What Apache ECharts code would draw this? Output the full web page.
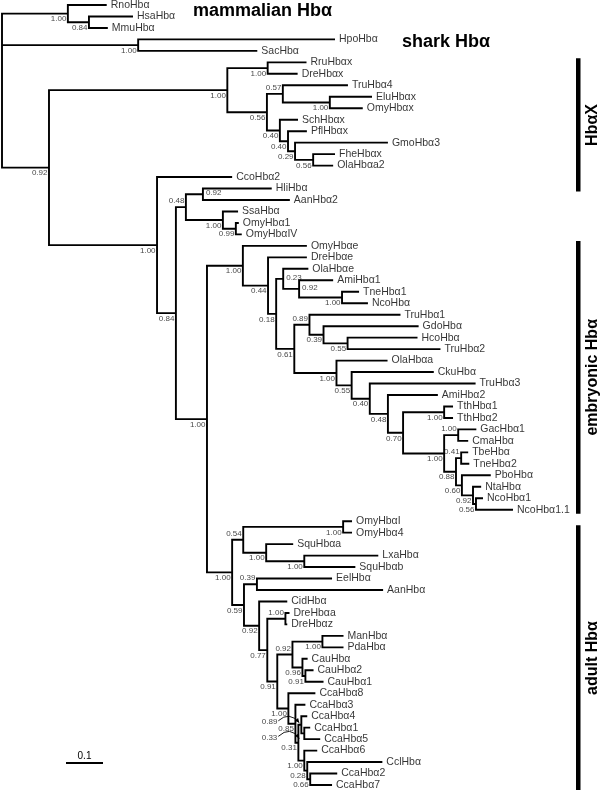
<!DOCTYPE html>
<html><head><meta charset="utf-8">
<script src="https://cdn.jsdelivr.net/npm/echarts@6/dist/echarts.min.js"></script>
<style>html,body{margin:0;padding:0;background:#fff}#c{width:605px;height:790px}</style>
</head><body><div id="c"></div>
<script>
// ---- DATA ----
// Tree topology, branch lengths (substitutions/site) and support values (Newick)
const treeNewick =
"((RnoHbα:0.105,(HsaHbα:0.119,MmuHbα:0.051)0.84:0.057)1.00:0.178," +
"(HpoHbα:0.532,SacHbα:0.322)1.00:0.368," +
"(((RruHbαx:0.105,DreHbαx:0.081)1.00:0.109,((TruHbα4:0.176,(EluHbαx:0.114,OmyHbαx:0.089)1.00:0.127)0.57:0.043,(SchHbαx:0.049,(PflHbαx:0.051,(GmoHbα3:0.251,(FheHbαx:0.059,OlaHbαa2:0.054)0.56:0.049)0.29:0.019)0.40:0.022)0.40:0.035)0.56:0.107)1.00:0.482," +
"(CcoHbα2:0.203,(((HliHbα:0.186,AanHbα2:0.235)0.92:0.046,(SsaHbα:0.041,(OmyHbα1:0.008,OmyHbαIV:0.016)0.99:0.035)1.00:0.100)0.48:0.027," +
"((OmyHbαe:0.173,(DreHbαe:0.105,((OlaHbαe:0.068,(AmiHbα1:0.092,(TneHbα1:0.046,NcoHbα:0.070)1.00:0.116)0.92:0.043)0.23:0.019,((TruHbα1:0.246,(GdoHbα:0.257,(HcoHbα:0.189,TruHbα2:0.251)0.55:0.065)0.39:0.038)0.89:0.041,(OlaHbαa:0.138,(CkuHbα:0.222,(TruHbα3:0.286,(AmiHbα2:0.135,((TthHbα1:0.024,TthHbα2:0.024)1.00:0.111,((GacHbα1:0.049,CmaHbα:0.027)1.00:0.038,((TbeHbα:0.019,TneHbα2:0.022)0.41:0.014,(PboHbα:0.078,(NtaHbα:0.022,(NcoHbα1:0.019,NcoHbα1.1:0.100)0.56:0.008)0.92:0.030)0.60:0.016)0.88:0.032)1.00:0.111)0.70:0.041)0.48:0.049)0.40:0.049)0.55:0.041)1.00:0.114)0.61:0.049)0.18:0.022)0.44:0.068)1.00:0.097," +
"(((OmyHbαI:0.024,OmyHbα4:0.024)1.00:0.270,(SquHbαa:0.073,(LxaHbα:0.200,SquHbαb:0.138)1.00:0.103)1.00:0.062)0.54:0.030,((EelHbα:0.203,AanHbα:0.341)0.39:0.035,(CidHbα:0.076,((DreHbαa:0.011,DreHbαz:0.005)1.00:0.049,(((ManHbα:0.057,PdaHbα:0.057)1.00:0.081,(CauHbα:0.014,(CauHbα2:0.022,CauHbα1:0.049)0.91:0.008)0.96:0.027)0.92:0.041,(CcaHbα8:0.073,(CcaHbα3:0.027,((CcaHbα4:0.016,(CcaHbα1:0.016,CcaHbα5:0.043)0.33:0.008)0.89:0.008,(CcaHbα6:0.035,(CclHbα:0.203,(CcaHbα2:0.073,CcaHbα7:0.059)0.66:0.008)0.28:0.008)1.00:0.016)0.31:0.008)0.85:0.019)1.00:0.030)0.91:0.027)0.77:0.022)0.92:0.041)0.59:0.032)1.00:0.068)1.00:0.084)0.84:0.051)1.00:0.292)0.92:0.127);";

// Clade groups marked with bars on the right
const cladeNames     = ['HbαX', 'embryonic Hbα', 'adult Hbα'];
const cladeFirstLeaf = ['RruHbαx', 'OmyHbαe', 'OmyHbαI'];
const cladeLastLeaf  = ['OlaHbαa2', 'NcoHbα1.1', 'CcaHbα7'];

// Group annotations written next to clades
const annotationTexts = ['mammalian Hbα', 'shark Hbα'];

// Scale bar length (substitutions/site)
const scaleBarLength = 0.1;
const scaleBarText = '0.1';

// ---- STYLE ----
const supportAbove = ['TruHbα4|OmyHbαx','HliHbα|OmyHbαIV','TruHbα1|TruHbα2','GacHbα1|CmaHbα',
  'TbeHbα|TneHbα2','OmyHbαI|SquHbαb','EelHbα|AanHbα','DreHbαa|DreHbαz','ManHbα|CauHbα1'];
const supportRight = ['HliHbα|AanHbα2','OlaHbαe|NcoHbα','AmiHbα1|NcoHbα'];
const supportArrow = {'CcaHbα4|CcaHbα5':{lab:[-24,-3], s:[-23,-4], c:[-12,-14], e:[-2,-2]},
                      'CcaHbα1|CcaHbα5':{lab:[-27,4], s:[-26,3], c:[-14,-8], e:[-5,5]}};
const cladeBarPadTop = [4, 5, -4];
const cladeBarPadBottom = [26, 4, 6];
const LW = 1.9;
const FONT = '"Liberation Sans", Arial, sans-serif';

// ---- PARSE ----
function parseNewick(s){
  let i = 0;
  function node(){
    const n = {children:[], name:'', len:0};
    if (s[i] === '('){
      i++;
      n.children.push(node());
      while (s[i] === ','){ i++; n.children.push(node()); }
      i++;
    }
    let name = '';
    while (i < s.length && '(),:;'.indexOf(s[i]) < 0){ name += s[i]; i++; }
    n.name = name;
    if (s[i] === ':'){
      i++; let num = '';
      while (i < s.length && '(),;'.indexOf(s[i]) < 0){ num += s[i]; i++; }
      n.len = parseFloat(num);
    }
    return n;
  }
  return node();
}
const tree = parseNewick(treeNewick.replace(/\s+/g,''));
const leaves = [], internals = [];
(function walk(n, px){
  n.x = px + (n.len || 0);
  if (!n.children.length){ n.y = leaves.length; leaves.push(n); n.first = n.last = n.name; }
  else {
    n.children.forEach(c => walk(c, n.x));
    const a = n.children[0], b = n.children[n.children.length-1];
    n.y = (a.y + b.y)/2; n.first = a.first; n.last = b.last;
    internals.push(n);
  }
})(tree, 0);
const leafIndex = {}; leaves.forEach(l => leafIndex[l.name] = l.y);

// ---- RENDER ----
function treeRender(params, api){
  const n = internals[params.dataIndex];
  const k = n.children, a = k[0], b = k[k.length-1];
  const pts = [api.coord([a.x,a.y]), api.coord([n.x,a.y]), api.coord([n.x,b.y]), api.coord([b.x,b.y])];
  const st = {stroke:'#000', lineWidth:LW, fill:null, lineJoin:'miter', lineCap:'butt'};
  const ch = [{type:'polyline', shape:{points:pts}, style:st}];
  for (let j=1;j<k.length-1;j++){
    const p0 = api.coord([n.x,k[j].y]), p1 = api.coord([k[j].x,k[j].y]);
    ch.push({type:'line', shape:{x1:p0[0],y1:p0[1],x2:p1[0],y2:p1[1]}, style:st});
  }
  return {type:'group', children:ch};
}

const supportNodes = internals.filter(n => n.name);
const supportData = supportNodes.map(n => {
  const key = n.first + '|' + n.last;
  let label = {align:'right', offset:[-1.5, 5.5]};
  if (supportAbove.includes(key)) label = {align:'right', offset:[-1.5,-6]};
  if (supportRight.includes(key)) label = {align:'left', offset:[3,-1]};
  if (supportArrow[key]) label = {align:'right', offset:supportArrow[key].lab};
  return {name:n.name, value:[n.x, n.y], label:label};
});

const arrowNodes = internals.filter(n => supportArrow[n.first + '|' + n.last]);
function arrowRender(params, api){
  const n = arrowNodes[params.dataIndex];
  const a = supportArrow[n.first + '|' + n.last];
  const p = api.coord([n.x, n.y]);
  const s = [p[0]+a.s[0], p[1]+a.s[1]], c = [p[0]+a.c[0], p[1]+a.c[1]], e = [p[0]+a.e[0], p[1]+a.e[1]];
  const dx = e[0]-c[0], dy = e[1]-c[1], L = Math.hypot(dx,dy), ux = dx/L, uy = dy/L;
  const h = 4.5, w = 2.2;
  const head = [[e[0],e[1]],[e[0]-ux*h-uy*w, e[1]-uy*h+ux*w],[e[0]-ux*h+uy*w, e[1]-uy*h-ux*w]];
  return {type:'group', children:[
    {type:'bezierCurve', shape:{x1:s[0],y1:s[1],x2:e[0],y2:e[1],cpx1:c[0],cpy1:c[1]}, style:{stroke:'#000', lineWidth:0.9, fill:null}},
    {type:'polygon', shape:{points:head}, style:{fill:'#000'}}
  ]};
}

function cladeRender(params, api){
  const i = params.dataIndex;
  const y0 = api.coord([0, leafIndex[cladeFirstLeaf[i]]])[1] - cladeBarPadTop[i];
  const y1 = api.coord([0, leafIndex[cladeLastLeaf[i]]])[1] + cladeBarPadBottom[i];
  return {type:'group', children:[
    {type:'rect', shape:{x:576, y:y0, width:4.5, height:y1-y0}, style:{fill:'#000'}},
    {type:'text', x:593, y:(y0+y1)/2, rotation:Math.PI/2,
     style:{text:cladeNames[i], font:'bold 16px ' + FONT, fill:'#000', align:'center', verticalAlign:'middle'}}
  ]};
}

function scaleRender(params, api){
  const len = api.coord([scaleBarLength,0])[0] - api.coord([0,0])[0];
  const x0 = 66, y0 = 763;
  return {type:'group', children:[
    {type:'line', shape:{x1:x0,y1:y0,x2:x0+len,y2:y0}, style:{stroke:'#000', lineWidth:LW}},
    {type:'text', x:x0+len/2, y:y0-7, style:{text:scaleBarText, font:'10px ' + FONT, fill:'#000', align:'center', verticalAlign:'middle'}}
  ]};
}

const chart = echarts.init(document.getElementById('c'), null, {renderer:'canvas'});
chart.setOption({
  animation:false,
  backgroundColor:'#fff',
  grid:{left:2, top:5, width:592, height:780},
  xAxis:{type:'value', min:0, max:1.6, show:false},
  yAxis:{type:'value', min:0, max:68, inverse:true, show:false},
  series:[
    {type:'custom', renderItem:treeRender, data:internals.map(n=>[n.x,n.y]), silent:true, clip:false, z:2},
    {type:'scatter', symbolSize:0, silent:true, z:3,
     data:leaves.map(l=>({name:l.name, value:[l.x,l.y]})),
     label:{show:true, position:'right', distance:4, formatter:'{b}', fontSize:10.5, fontFamily:FONT, color:'#000'}},
    {type:'scatter', symbolSize:0, silent:true, z:3, data:supportData,
     label:{show:true, position:'inside', verticalAlign:'middle', formatter:'{b}', fontSize:8, fontFamily:FONT, color:'#111'}},
    {type:'custom', renderItem:arrowRender, data:arrowNodes.map(n=>[n.x,n.y]), silent:true, clip:false, z:3},
    {type:'custom', renderItem:cladeRender, data:cladeNames.map((c,i)=>[0, leafIndex[cladeFirstLeaf[i]]]), silent:true, clip:false, z:3},
    {type:'custom', renderItem:scaleRender, data:[[scaleBarLength, 0]], silent:true, clip:false, z:3}
  ],
  graphic:[
    {type:'text', left:193, top:2, style:{text:annotationTexts[0], font:'bold 18px ' + FONT, fill:'#000'}},
    {type:'text', left:402, top:33, style:{text:annotationTexts[1], font:'bold 18px ' + FONT, fill:'#000'}}
  ]
});
</script></body></html>
